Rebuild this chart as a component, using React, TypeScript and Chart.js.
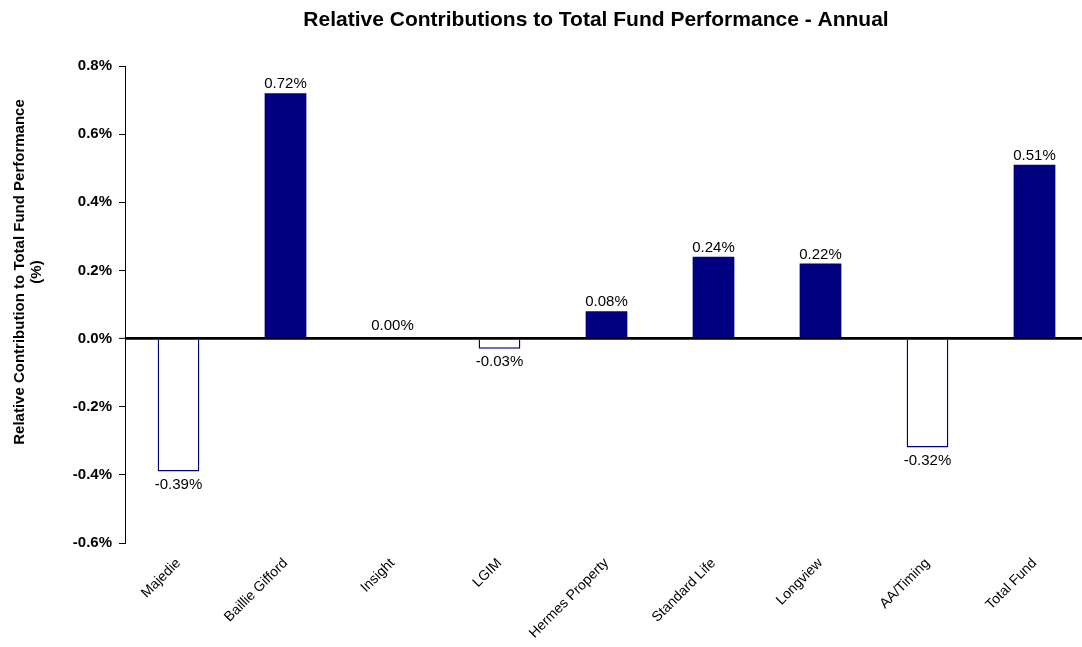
import React, { useEffect, useRef } from "react";
import { Chart, registerables } from "chart.js";

Chart.register(...registerables);

const categories = [
  "Majedie",
  "Baillie Gifford",
  "Insight",
  "LGIM",
  "Hermes Property",
  "Standard Life",
  "Longview",
  "AA/Timing",
  "Total Fund",
];
const values = [-0.39, 0.72, 0.0, -0.03, 0.08, 0.24, 0.22, -0.32, 0.51];
const yTicks = [-0.6, -0.4, -0.2, 0.0, 0.2, 0.4, 0.6, 0.8];
const chartTitle = "Relative Contributions to Total Fund Performance - Annual";
const yTitle = ["Relative Contribution to Total Fund Performance", "(%)"];

const NAVY = "#000080";
const FONT = "'Liberation Sans', Arial, sans-serif";

export default function App() {
  const ref = useRef<HTMLCanvasElement | null>(null);

  useEffect(() => {
    if (!ref.current) return;
    const overlay = {
      id: "overlay",
      afterDatasetsDraw(chart: any) {
        const ctx = chart.ctx;
        const meta = chart.getDatasetMeta(0);
        ctx.save();
        ctx.fillStyle = "#000";
        ctx.font = `15px ${FONT}`;
        ctx.textAlign = "center";
        meta.data.forEach((bar: any, i: number) => {
          const v = values[i];
          const txt = v.toFixed(2) + "%";
          if (v >= 0) {
            ctx.textBaseline = "alphabetic";
            ctx.fillText(txt, bar.x, bar.y - (v === 0 ? 9 : 5));
          } else {
            ctx.textBaseline = "top";
            ctx.fillText(txt, bar.x, bar.y + 6);
          }
        });
        // chart title
        ctx.font = `bold 21px ${FONT}`;
        ctx.textBaseline = "middle";
        ctx.fillText(chartTitle, 596, 20);
        // y axis title
        ctx.font = `bold 15px ${FONT}`;
        const cy = 272;
        ctx.save();
        ctx.translate(20, cy);
        ctx.rotate(-Math.PI / 2);
        ctx.fillText(yTitle[0], 0, 0);
        ctx.restore();
        ctx.save();
        ctx.translate(37, cy);
        ctx.rotate(-Math.PI / 2);
        ctx.fillText(yTitle[1], 0, 0);
        ctx.restore();
        ctx.restore();
      },
    };

    const chart = new Chart(ref.current, {
      type: "bar",
      data: {
        labels: categories,
        datasets: [
          {
            data: values,
            backgroundColor: values.map((v) => (v >= 0 ? NAVY : "#ffffff")),
            borderColor: NAVY,
            borderWidth: values.map((v) => (v >= 0 ? 0 : 1.5)),
            barPercentage: 0.39,
            categoryPercentage: 1,
          },
        ],
      },
      options: {
        animation: false,
        responsive: false,
        maintainAspectRatio: false,
        devicePixelRatio: 1,
        layout: { padding: { top: 66, right: 2, left: 0, bottom: 0 } },
        plugins: {
          legend: { display: false },
          title: { display: false },
          tooltip: { enabled: false },
        },
        scales: {
          x: {
            grid: { display: false },
            border: { display: false },
            ticks: {
              color: "#000",
              font: { family: FONT, size: 14 },
              maxRotation: 45,
              minRotation: 45,
              autoSkip: false,
              padding: 4,
            },
            afterFit: (s: any) => {
              s.height = 104;
            },
          },
          y: {
            min: -0.6,
            max: 0.8,
            afterBuildTicks: (s: any) => {
              s.ticks = yTicks.map((v) => ({ value: v }));
            },
            afterFit: (s: any) => {
              s.width = 125;
            },
            border: { display: true, color: "#000", width: 1 },
            grid: {
              color: (c: any) =>
                c.tick && Math.abs(c.tick.value) < 1e-9 ? "#000" : "rgba(0,0,0,0)",
              lineWidth: (c: any) =>
                c.tick && Math.abs(c.tick.value) < 1e-9 ? 2.7 : 1,
              tickColor: "#000",
              tickWidth: 1,
              tickLength: 6,
              drawOnChartArea: true,
            },
            ticks: {
              color: "#000",
              font: { family: FONT, size: 15, weight: "bold" },
              padding: 7,
              callback: (v: any) => Number(v).toFixed(1) + "%",
            },
          },
        },
      },
      plugins: [overlay],
    });
    return () => chart.destroy();
  }, []);

  return (
    <div
      style={{
        position: "fixed",
        left: 0,
        top: 0,
        width: 1082,
        height: 647,
        overflow: "hidden",
        background: "#fff",
      }}
    >
      <canvas ref={ref} width={1090} height={647} style={{ display: "block" }} />
    </div>
  );
}
